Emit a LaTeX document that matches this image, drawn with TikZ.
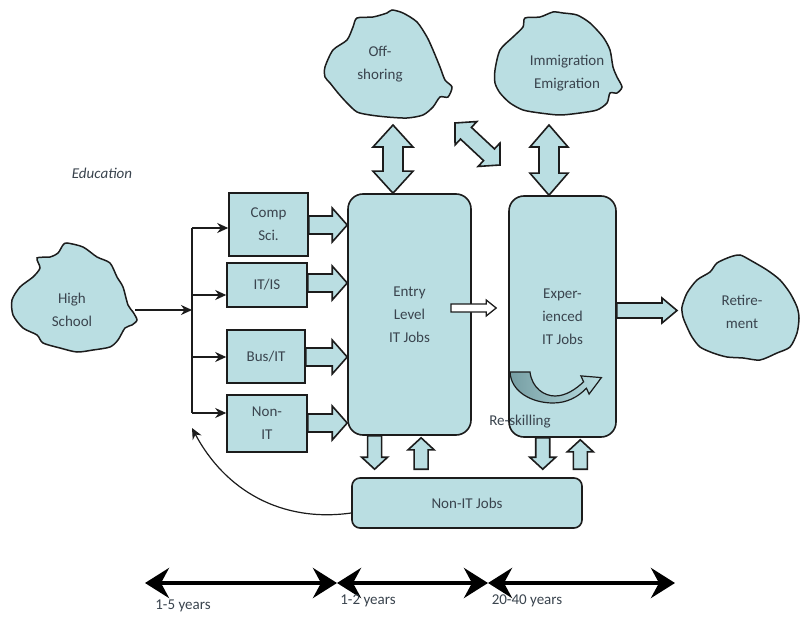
\documentclass[tikz,border=0pt]{standalone}
\usepackage{fontspec}
\setmainfont{Carlito}
\usetikzlibrary{arrows.meta,calc}
\definecolor{panel}{RGB}{186,222,226}
\definecolor{paneldark}{RGB}{118,158,163}
\definecolor{ink}{RGB}{28,28,28}
\definecolor{label}{RGB}{58,68,78}
\tikzset{
  every node/.style={text=label, font=\fontsize{15}{23}\selectfont},
  outline/.style={draw=ink, line width=1.6pt, fill=panel},
  edubox/.style={outline, rectangle, inner sep=0pt, align=center},
  jobbox/.style={outline, rectangle, rounded corners=15pt, inner sep=0pt, align=center},
  cloudtext/.style={align=center, inner sep=0pt},
  blob/.style={draw=ink, line width=1.5pt, fill=panel},
  thin arrow/.style={draw=ink, line width=1.4pt, -{Stealth[length=11pt,width=10pt]}},
  % block arrow: shaft half-width, head half-width, head length
  barrow/.style n args={3}{outline, to path={
    let \p1=(\tikztostart), \p2=(\tikztotarget),
        \n1={atan2(\y2-\y1,\x2-\x1)}, \n2={veclen(\x2-\x1,\y2-\y1)} in
    ([shift={(\p1)},rotate=\n1]0pt,#1pt)
    -- ([shift={(\p1)},rotate=\n1]\n2-#3pt,#1pt)
    -- ([shift={(\p1)},rotate=\n1]\n2-#3pt,#2pt)
    -- (\p2)
    -- ([shift={(\p1)},rotate=\n1]\n2-#3pt,-#2pt)
    -- ([shift={(\p1)},rotate=\n1]\n2-#3pt,-#1pt)
    -- ([shift={(\p1)},rotate=\n1]0pt,-#1pt) -- cycle}},
  % double-headed block arrow
  dbarrow/.style n args={3}{outline, to path={
    let \p1=(\tikztostart), \p2=(\tikztotarget),
        \n1={atan2(\y2-\y1,\x2-\x1)}, \n2={veclen(\x2-\x1,\y2-\y1)} in
    (\p1)
    -- ([shift={(\p1)},rotate=\n1]#3pt,#2pt)
    -- ([shift={(\p1)},rotate=\n1]#3pt,#1pt)
    -- ([shift={(\p1)},rotate=\n1]\n2-#3pt,#1pt)
    -- ([shift={(\p1)},rotate=\n1]\n2-#3pt,#2pt)
    -- (\p2)
    -- ([shift={(\p1)},rotate=\n1]\n2-#3pt,-#2pt)
    -- ([shift={(\p1)},rotate=\n1]\n2-#3pt,-#1pt)
    -- ([shift={(\p1)},rotate=\n1]#3pt,-#1pt)
    -- ([shift={(\p1)},rotate=\n1]#3pt,-#2pt)
    -- cycle}},
  timeline/.style={draw=black, line width=4.5pt,
    {Stealth[length=24pt,width=30pt,inset=8pt]}-{Stealth[length=24pt,width=30pt,inset=8pt]}},
}
\begin{document}
\begin{tikzpicture}[x=1pt,y=-1pt]
\clip (0,0) rectangle (800,620);
\fill[white] (0,0) rectangle (800,620);

% ---------- clouds ----------
\draw[blob] plot[smooth cycle, tension=0.45] coordinates {
  (67,243) (83,247) (97,257) (110,263) (117,277) (123,287) (128,305)
  (133,312) (137,320) (132,325) (125,328) (118,340) (110,347) (93,350)
  (77,352) (60,348) (43,343) (37,335) (23,328) (13,315) (12,300)
  (20,287) (33,277) (40,268) (37,258) (50,257) (58,253) (63,245)};
\draw[blob] plot[smooth cycle, tension=0.45] coordinates {
  (325,67) (333,50) (347,40) (353,27) (357,18) (373,17) (387,13)
  (392,10) (403,13) (417,22) (427,37) (433,50) (440,67) (445,80)
  (452,87) (448,97) (440,97) (433,107) (423,115) (407,118) (387,117)
  (370,115) (357,112) (347,103) (338,93) (330,83) (325,77)};
\draw[blob] plot[smooth cycle, tension=0.45] coordinates {
  (495,70) (500,50) (513,37) (523,27) (525,18) (540,17) (553,12)
  (563,13) (577,15) (590,23) (603,37) (610,50) (613,67) (617,77)
  (622,87) (617,93) (610,93) (607,103) (597,110) (580,113) (560,115)
  (540,113) (523,110) (510,103) (500,93) (495,83)};
\draw[blob] plot[smooth cycle, tension=0.45] coordinates {
  (682,307) (687,293) (697,280) (710,272) (717,263) (730,257) (740,255)
  (750,260) (767,270) (780,280) (790,293) (797,307) (799,318) (797,333)
  (790,347) (777,353) (760,360) (743,358) (727,357) (713,353) (700,347)
  (692,337) (687,327) (683,317)};

\node[cloudtext] (hs)  at (72,310)  {High\\School};
\node[cloudtext] (off) at (380,64)  {Off-\\shoring};
\node[cloudtext] (imm) at (567,73)  {Immigration\\Emigration};
\node[cloudtext] (ret) at (742,312) {Retire-\\ment};

\coordinate (hs-e)  at (135,310);
\coordinate (off-b) at (393,125);
\coordinate (imm-b) at (549,125);
\coordinate (ret-w) at (677,310);
\coordinate (swap-a) at (455,123);
\coordinate (swap-b) at (500,165);

\node[font=\fontsize{15}{18}\selectfont\itshape] (edu) at (102,173) {Education};

% ---------- education boxes ----------
\node[edubox, minimum width=79pt, minimum height=63pt] (cs)    at (268.5,224.5) {Comp\\Sci.};
\node[edubox, minimum width=80pt, minimum height=44pt] (itis)  at (267,285)     {IT/IS};
\node[edubox, minimum width=78pt, minimum height=53pt] (busit) at (266,356.5)   {Bus/IT};
\node[edubox, minimum width=80pt, minimum height=57pt] (nonit) at (267,423.5)   {Non-\\IT};

% ---------- job boxes ----------
\node[jobbox, minimum width=123pt, minimum height=241pt] (entry) at (409.5,314.5) {Entry\\Level\\IT Jobs};
\node[jobbox, minimum width=107pt, minimum height=241pt] (exp)   at (562.5,316.5) {Exper-\\ienced\\IT Jobs};
\node[jobbox, rounded corners=8pt, minimum width=230pt, minimum height=50pt] (nij) at (467,503) {Non-IT Jobs};

% ---------- branching from high school ----------
\coordinate (fork) at (192,310);
\coordinate (b1) at (192,228);
\coordinate (b2) at (192,295);
\coordinate (b3) at (192,357);
\coordinate (b4) at (192,413);
\coordinate (back) at (192,428);
\draw[thin arrow] (hs-e) -- (fork);
\draw[draw=ink, line width=1.4pt] (b1) -- (b4);
\draw[thin arrow] (b1) -- (b1 -| cs.west);
\draw[thin arrow] (b2) -- (b2 -| itis.west);
\draw[thin arrow] (b3) -- (b3 -| busit.west);
\draw[thin arrow] (b4) -- (b4 -| nonit.west);
\draw[thin arrow, line width=1.2pt] ([yshift=-10pt]nij.west) to[out=188,in=-62] (back);

% ---------- education to entry-level jobs ----------
\coordinate (e1) at (307,225);
\coordinate (e2) at (307,283);
\coordinate (e3) at (307,357);
\coordinate (e4) at (307,423);
\draw[barrow={9}{17}{15}] (e1 -| cs.east)    to (e1 -| entry.west);
\draw[barrow={9}{17}{15}] (e2 -| itis.east)  to (e2 -| entry.west);
\draw[barrow={9}{17}{15}] (e3 -| busit.east) to (e3 -| entry.west);
\draw[barrow={9}{17}{15}] (e4 -| nonit.east) to (e4 -| entry.west);

% ---------- flows between clouds and jobs ----------
\draw[dbarrow={10}{20}{22}] (off-b) to (off-b |- entry.north);
\draw[dbarrow={10}{19}{22}] (imm-b) to (imm-b |- exp.north);
\draw[dbarrow={8}{16}{15}] (swap-a) to (swap-b);

% entry -> experienced
\coordinate (mid-a) at (451,308);
\draw[barrow={4}{8}{10}, fill=white, line width=1.3pt] (mid-a) to ([xshift=-12pt]mid-a -| exp.west);
% experienced -> retirement
\draw[barrow={7.5}{12.5}{15}] ([yshift=6pt]exp.east) to ([yshift=6pt]exp.east -| ret-w);

% ---------- between IT jobs and non-IT jobs ----------
\coordinate (d1) at ($(entry.south west)!0.22!(entry.south east)$);
\coordinate (u1) at ($(entry.south west)!0.593!(entry.south east)$);
\coordinate (d2) at ($(exp.south west)!0.318!(exp.south east)$);
\coordinate (u2) at ($(exp.south west)!0.664!(exp.south east)$);
\draw[barrow={7}{13}{12}] (d1) to ([yshift=8pt]d1 |- nij.north);
\draw[barrow={7}{13}{12}] ([yshift=8pt]u1 |- nij.north) to ([yshift=-2pt]u1);
\draw[barrow={7}{13}{12}] (d2) to ([yshift=8pt]d2 |- nij.north);
\draw[barrow={7}{13}{12}] ([yshift=8pt]u2 |- nij.north) to ([yshift=-2pt]u2);

% ---------- re-skilling curved arrow ----------
\draw[draw=ink, line width=1.2pt, left color=paneldark, middle color=panel, right color=panel]
  (510,372) -- (530,372)
  .. controls (532,388) and (544,396) .. (555,396)
  .. controls (566,396) and (576,389) .. (583.6,381.8)
  -- (580.9,375.9) -- (601.4,377.6) -- (589.1,394.1) -- (586.4,388.2)
  .. controls (578,397) and (567,403) .. (553,403)
  .. controls (532,403) and (511,392) .. (510,372) -- cycle;
\node (resk) at (520,422) {Re-skilling};

% ---------- time line ----------
\coordinate (t0) at (145,583);
\coordinate (t1) at (337,583);
\coordinate (t2) at (488,583);
\coordinate (t3) at (675,583);
\draw[timeline] (t0) -- (t1);
\draw[timeline] (t1) -- (t2);
\draw[timeline] (t2) -- (t3);
\node (y1) at (183,606) {1-5 years};
\node (y2) at (368,601) {1-2 years};
\node (y3) at (527,601) {20-40 years};
\end{tikzpicture}
\end{document}
